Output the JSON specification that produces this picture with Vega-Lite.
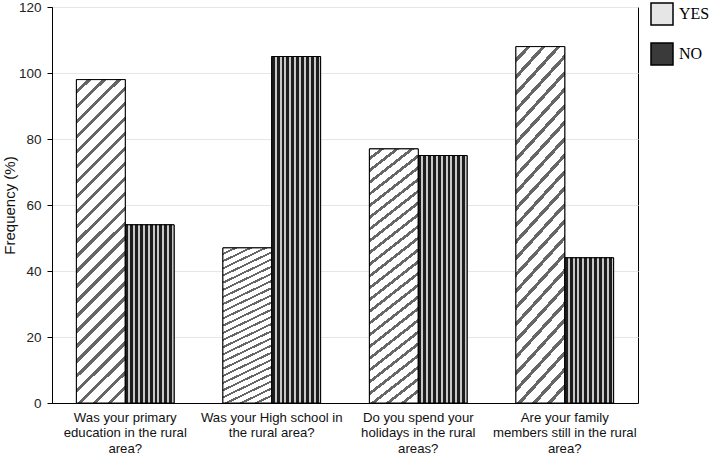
{
  "$schema": "https://vega.github.io/schema/vega-lite/v6.json",
  "autosize": {"type": "none"},
  "width": 586,
  "height": 396,
  "padding": {"left": 52, "top": 7, "right": 71, "bottom": 53},
  "background": "white",
  "config": {
    "view": {"stroke": "black", "strokeWidth": 1},
    "font": "Liberation Sans"
  },
  "data": {
    "values": [
      {"question": "Was your primary|education in the rural|area?", "answer": "YES", "value": 98},
      {"question": "Was your primary|education in the rural|area?", "answer": "NO", "value": 54},
      {"question": "Was your High school in|the rural area?", "answer": "YES", "value": 47},
      {"question": "Was your High school in|the rural area?", "answer": "NO", "value": 105},
      {"question": "Do you spend your|holidays in the rural|areas?", "answer": "YES", "value": 77},
      {"question": "Do you spend your|holidays in the rural|areas?", "answer": "NO", "value": 75},
      {"question": "Are your family|members still in the rural|area?", "answer": "YES", "value": 108},
      {"question": "Are your family|members still in the rural|area?", "answer": "NO", "value": 44}
    ]
  },
  "encoding": {
    "x": {
      "field": "question", "type": "nominal", "sort": null,
      "scale": {"paddingInner": 0, "paddingOuter": 0},
      "axis": {
        "title": null, "labelAngle": 0, "labelExpr": "split(datum.label, '|')",
        "labelFontSize": 13.2, "labelColor": "#111", "labelLineHeight": 15.5,
        "labelPadding": 8, "ticks": false, "domainColor": "black", "labelLimit": 0
      }
    },
    "xOffset": {"field": "answer", "type": "nominal", "sort": ["YES", "NO"],
      "scale": {"paddingOuter": 0.5, "paddingInner": 0}},
    "y": {
      "field": "value", "type": "quantitative",
      "scale": {"domain": [0, 120], "nice": false},
      "axis": {
        "title": "Frequency (%)", "values": [0, 20, 40, 60, 80, 100, 120],
        "grid": true, "gridColor": "#e6e6e6", "domainColor": "black",
        "tickColor": "black", "tickSize": 5, "labelPadding": 6,
        "labelFontSize": 13.5, "labelColor": "#222", "titleFontSize": 15,
        "titleFontWeight": "normal", "titleColor": "#111", "titleX": -35
      }
    }
  },
  "layer": [
    {
      "mark": {"type": "bar", "stroke": "black", "strokeWidth": 1},
      "encoding": {
        "fill": {
          "field": "answer", "type": "nominal",
          "scale": {"domain": ["YES", "NO"], "range": ["#e6e6e6", "#3a3a3a"]},
          "legend": {
            "title": null, "orient": "none", "legendX": 598, "legendY": -5,
            "symbolType": "square", "symbolSize": 484, "symbolStrokeColor": "black",
            "symbolStrokeWidth": 1.5, "labelFont": "Liberation Serif", "labelFontSize": 16,
            "labelColor": "black", "labelOffset": 5, "rowPadding": 12, "padding": 0,
            "encoding": {
              "symbols": {
                "stroke": {"value": "black"},
                "strokeWidth": {"value": 1.5},
                "fill": {"value": {"expr": "datum.value === 'YES' ? {gradient: 'linear', x1: 0, y1: 0, x2: 1, y2: 1, stops: [{offset: 0, color: '#ffffff'}, {offset: 0.12, color: '#ffffff'}, {offset: 0.12, color: '#333333'}, {offset: 0.17, color: '#333333'}, {offset: 0.17, color: '#ffffff'}, {offset: 0.29, color: '#ffffff'}, {offset: 0.29, color: '#333333'}, {offset: 0.34, color: '#333333'}, {offset: 0.34, color: '#ffffff'}, {offset: 0.46, color: '#ffffff'}, {offset: 0.46, color: '#333333'}, {offset: 0.51, color: '#333333'}, {offset: 0.51, color: '#ffffff'}, {offset: 0.63, color: '#ffffff'}, {offset: 0.63, color: '#333333'}, {offset: 0.68, color: '#333333'}, {offset: 0.68, color: '#ffffff'}, {offset: 0.8, color: '#ffffff'}, {offset: 0.8, color: '#333333'}, {offset: 0.85, color: '#333333'}, {offset: 0.85, color: '#ffffff'}, {offset: 1, color: '#ffffff'}]} : {gradient: 'linear', x1: 0, y1: 0, x2: 1, y2: 0, stops: [{offset: 0, color: '#111111'}, {offset: 0.14, color: '#111111'}, {offset: 0.14, color: '#dddddd'}, {offset: 0.22, color: '#dddddd'}, {offset: 0.22, color: '#111111'}, {offset: 0.36, color: '#111111'}, {offset: 0.36, color: '#dddddd'}, {offset: 0.44, color: '#dddddd'}, {offset: 0.44, color: '#111111'}, {offset: 0.58, color: '#111111'}, {offset: 0.58, color: '#dddddd'}, {offset: 0.66, color: '#dddddd'}, {offset: 0.66, color: '#111111'}, {offset: 0.8, color: '#111111'}, {offset: 0.8, color: '#dddddd'}, {offset: 0.88, color: '#dddddd'}, {offset: 0.88, color: '#111111'}, {offset: 1, color: '#111111'}]}"}}
              }
            }
          }
        }
      }
    },
    {
      "mark": {"type": "bar", "stroke": "black", "strokeWidth": 1},
      "encoding": {
        "fill": {
          "condition": {"test": "datum.answer === 'YES'", "value": {"gradient": "linear", "x1": 0, "y1": 0, "x2": 0.17, "y2": 1.13, "stops": [
            {"offset": 0, "color": "#ffffff"}, {"offset": 0.028, "color": "#ffffff"}, {"offset": 0.028, "color": "#666666"}, {"offset": 0.04, "color": "#666666"},
            {"offset": 0.04, "color": "#ffffff"}, {"offset": 0.068, "color": "#ffffff"}, {"offset": 0.068, "color": "#666666"}, {"offset": 0.08, "color": "#666666"},
            {"offset": 0.08, "color": "#ffffff"}, {"offset": 0.108, "color": "#ffffff"}, {"offset": 0.108, "color": "#666666"}, {"offset": 0.12, "color": "#666666"},
            {"offset": 0.12, "color": "#ffffff"}, {"offset": 0.148, "color": "#ffffff"}, {"offset": 0.148, "color": "#666666"}, {"offset": 0.16, "color": "#666666"},
            {"offset": 0.16, "color": "#ffffff"}, {"offset": 0.188, "color": "#ffffff"}, {"offset": 0.188, "color": "#666666"}, {"offset": 0.2, "color": "#666666"},
            {"offset": 0.2, "color": "#ffffff"}, {"offset": 0.228, "color": "#ffffff"}, {"offset": 0.228, "color": "#666666"}, {"offset": 0.24, "color": "#666666"},
            {"offset": 0.24, "color": "#ffffff"}, {"offset": 0.268, "color": "#ffffff"}, {"offset": 0.268, "color": "#666666"}, {"offset": 0.28, "color": "#666666"},
            {"offset": 0.28, "color": "#ffffff"}, {"offset": 0.308, "color": "#ffffff"}, {"offset": 0.308, "color": "#666666"}, {"offset": 0.32, "color": "#666666"},
            {"offset": 0.32, "color": "#ffffff"}, {"offset": 0.348, "color": "#ffffff"}, {"offset": 0.348, "color": "#666666"}, {"offset": 0.36, "color": "#666666"},
            {"offset": 0.36, "color": "#ffffff"}, {"offset": 0.388, "color": "#ffffff"}, {"offset": 0.388, "color": "#666666"}, {"offset": 0.4, "color": "#666666"},
            {"offset": 0.4, "color": "#ffffff"}, {"offset": 0.428, "color": "#ffffff"}, {"offset": 0.428, "color": "#666666"}, {"offset": 0.44, "color": "#666666"},
            {"offset": 0.44, "color": "#ffffff"}, {"offset": 0.468, "color": "#ffffff"}, {"offset": 0.468, "color": "#666666"}, {"offset": 0.48, "color": "#666666"},
            {"offset": 0.48, "color": "#ffffff"}, {"offset": 0.508, "color": "#ffffff"}, {"offset": 0.508, "color": "#666666"}, {"offset": 0.52, "color": "#666666"},
            {"offset": 0.52, "color": "#ffffff"}, {"offset": 0.548, "color": "#ffffff"}, {"offset": 0.548, "color": "#666666"}, {"offset": 0.56, "color": "#666666"},
            {"offset": 0.56, "color": "#ffffff"}, {"offset": 0.588, "color": "#ffffff"}, {"offset": 0.588, "color": "#666666"}, {"offset": 0.6, "color": "#666666"},
            {"offset": 0.6, "color": "#ffffff"}, {"offset": 0.628, "color": "#ffffff"}, {"offset": 0.628, "color": "#666666"}, {"offset": 0.64, "color": "#666666"},
            {"offset": 0.64, "color": "#ffffff"}, {"offset": 0.668, "color": "#ffffff"}, {"offset": 0.668, "color": "#666666"}, {"offset": 0.68, "color": "#666666"},
            {"offset": 0.68, "color": "#ffffff"}, {"offset": 0.708, "color": "#ffffff"}, {"offset": 0.708, "color": "#666666"}, {"offset": 0.72, "color": "#666666"},
            {"offset": 0.72, "color": "#ffffff"}, {"offset": 0.748, "color": "#ffffff"}, {"offset": 0.748, "color": "#666666"}, {"offset": 0.76, "color": "#666666"},
            {"offset": 0.76, "color": "#ffffff"}, {"offset": 0.788, "color": "#ffffff"}, {"offset": 0.788, "color": "#666666"}, {"offset": 0.8, "color": "#666666"},
            {"offset": 0.8, "color": "#ffffff"}, {"offset": 0.828, "color": "#ffffff"}, {"offset": 0.828, "color": "#666666"}, {"offset": 0.84, "color": "#666666"},
            {"offset": 0.84, "color": "#ffffff"}, {"offset": 0.868, "color": "#ffffff"}, {"offset": 0.868, "color": "#666666"}, {"offset": 0.88, "color": "#666666"},
            {"offset": 0.88, "color": "#ffffff"}, {"offset": 0.908, "color": "#ffffff"}, {"offset": 0.908, "color": "#666666"}, {"offset": 0.92, "color": "#666666"},
            {"offset": 0.92, "color": "#ffffff"}, {"offset": 0.948, "color": "#ffffff"}, {"offset": 0.948, "color": "#666666"}, {"offset": 0.96, "color": "#666666"},
            {"offset": 0.96, "color": "#ffffff"}, {"offset": 1, "color": "#ffffff"}
          ]}},
          "value": {"gradient": "linear", "x1": 0, "y1": 0, "x2": 1, "y2": 0, "stops": [
            {"offset": 0, "color": "#1e1e1e"}, {"offset": 0.06, "color": "#1e1e1e"}, {"offset": 0.06, "color": "#c8c8c8"}, {"offset": 0.1, "color": "#c8c8c8"},
            {"offset": 0.1, "color": "#1e1e1e"}, {"offset": 0.16, "color": "#1e1e1e"}, {"offset": 0.16, "color": "#c8c8c8"}, {"offset": 0.2, "color": "#c8c8c8"},
            {"offset": 0.2, "color": "#1e1e1e"}, {"offset": 0.26, "color": "#1e1e1e"}, {"offset": 0.26, "color": "#c8c8c8"}, {"offset": 0.3, "color": "#c8c8c8"},
            {"offset": 0.3, "color": "#1e1e1e"}, {"offset": 0.36, "color": "#1e1e1e"}, {"offset": 0.36, "color": "#c8c8c8"}, {"offset": 0.4, "color": "#c8c8c8"},
            {"offset": 0.4, "color": "#1e1e1e"}, {"offset": 0.46, "color": "#1e1e1e"}, {"offset": 0.46, "color": "#c8c8c8"}, {"offset": 0.5, "color": "#c8c8c8"},
            {"offset": 0.5, "color": "#1e1e1e"}, {"offset": 0.56, "color": "#1e1e1e"}, {"offset": 0.56, "color": "#c8c8c8"}, {"offset": 0.6, "color": "#c8c8c8"},
            {"offset": 0.6, "color": "#1e1e1e"}, {"offset": 0.66, "color": "#1e1e1e"}, {"offset": 0.66, "color": "#c8c8c8"}, {"offset": 0.7, "color": "#c8c8c8"},
            {"offset": 0.7, "color": "#1e1e1e"}, {"offset": 0.76, "color": "#1e1e1e"}, {"offset": 0.76, "color": "#c8c8c8"}, {"offset": 0.8, "color": "#c8c8c8"},
            {"offset": 0.8, "color": "#1e1e1e"}, {"offset": 0.86, "color": "#1e1e1e"}, {"offset": 0.86, "color": "#c8c8c8"}, {"offset": 0.9, "color": "#c8c8c8"},
            {"offset": 0.9, "color": "#1e1e1e"}, {"offset": 0.96, "color": "#1e1e1e"}, {"offset": 0.96, "color": "#c8c8c8"}, {"offset": 1, "color": "#c8c8c8"}
          ]}
        }
      }
    }
  ]
}
